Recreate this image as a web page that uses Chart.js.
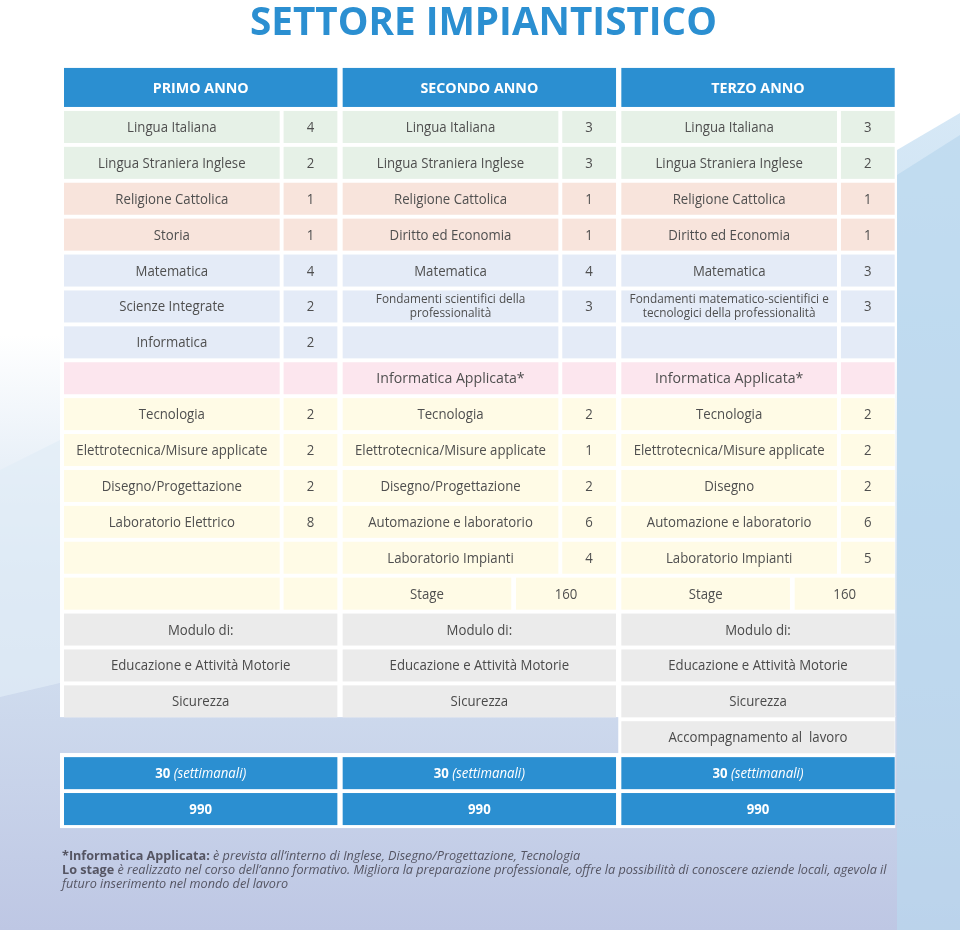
<!DOCTYPE html>
<html>
<head>
<meta charset="utf-8">
<script src="https://cdn.jsdelivr.net/npm/chart.js@4.4.1/dist/chart.umd.min.js"></script>
<style>
  html, body { margin: 0; padding: 0; background: #fff; }
  canvas { display: block; }
</style>
</head>
<body>
<canvas id="myChart" width="960" height="930"></canvas>
<script>
// ---- data ----
const titleText = 'SETTORE IMPIANTISTICO';
const years = ['PRIMO ANNO', 'SECONDO ANNO', 'TERZO ANNO'];

const subjects_1 = ['Lingua Italiana', 'Lingua Straniera Inglese', 'Religione Cattolica', 'Storia',
  'Matematica', 'Scienze Integrate', 'Informatica', '', 'Tecnologia',
  'Elettrotecnica/Misure applicate', 'Disegno/Progettazione', 'Laboratorio Elettrico', '', ''];
const hours_1 = [4, 2, 1, 1, 4, 2, 2, null, 2, 2, 2, 8, null, null];

const subjects_2 = ['Lingua Italiana', 'Lingua Straniera Inglese', 'Religione Cattolica', 'Diritto ed Economia',
  'Matematica', 'Fondamenti scientifici della\nprofessionalità', '', 'Informatica Applicata*', 'Tecnologia',
  'Elettrotecnica/Misure applicate', 'Disegno/Progettazione', 'Automazione e laboratorio',
  'Laboratorio Impianti', 'Stage'];
const hours_2 = [3, 3, 1, 1, 4, 3, null, null, 2, 1, 2, 6, 4, 160];

const subjects_3 = ['Lingua Italiana', 'Lingua Straniera Inglese', 'Religione Cattolica', 'Diritto ed Economia',
  'Matematica', 'Fondamenti matematico-scientifici e\ntecnologici della professionalità', '', 'Informatica Applicata*',
  'Tecnologia', 'Elettrotecnica/Misure applicate', 'Disegno', 'Automazione e laboratorio',
  'Laboratorio Impianti', 'Stage'];
const hours_3 = [3, 2, 1, 1, 3, 3, null, null, 2, 2, 2, 6, 5, 160];

const moduli_1 = ['Modulo di:', 'Educazione e Attività Motorie', 'Sicurezza'];
const moduli_2 = ['Modulo di:', 'Educazione e Attività Motorie', 'Sicurezza'];
const moduli_3 = ['Modulo di:', 'Educazione e Attività Motorie', 'Sicurezza', 'Accompagnamento al  lavoro'];

const weekly = [30, 30, 30];
const annual = [990, 990, 990];

const notes = [
  [['*Informatica Applicata:', 'b'], [' è prevista all’interno di Inglese, Disegno/Progettazione, Tecnologia', 'i']],
  [['Lo stage', 'b'], [' è realizzato nel corso dell’anno formativo. Migliora la preparazione professionale, offre la possibilità di conoscere aziende locali, agevola il', 'i']],
  [['futuro inserimento nel mondo del lavoro', 'i']]
];

// ---- style ----
const BLUE = '#2b8fd1';
const TEXT = '#4f4f4f';
const groupColors = ['#e6f1e7', '#e6f1e7', '#f8e4dc', '#f8e4dc', '#e4ebf7', '#e4ebf7', '#e4ebf7',
  '#fce6ee', '#fffbe6', '#fffbe6', '#fffbe6', '#fffbe6', '#fffbe6', '#fffbe6'];
const GRAY = '#ebebeb';
const FONT = '"Open Sans", "Noto Sans", sans-serif';

const subjects = [subjects_1, subjects_2, subjects_3];
const hours = [hours_1, hours_2, hours_3];
const moduli = [moduli_1, moduli_2, moduli_3];

// cell extents in block / row units
const NAME_END = 0.774, VAL_START = 0.788, BLOCK_END = 0.981;
const STAGE_END = 0.605, STAGE_VAL = 0.622;
const HALF = 0.446;

const ctx = document.getElementById('myChart').getContext('2d');
let kReg = 1, kBold = 1, kNote = 1;

function calibrate(c) {
  c.save();
  c.font = '14px ' + FONT;
  kReg = 191 / c.measureText('Elettrotecnica/Misure applicate').width;
  c.font = 'bold 14.5px ' + FONT;
  kBold = 96 / c.measureText('PRIMO ANNO').width;
  c.font = 'italic 13px ' + FONT;
  kNote = 226 / c.measureText('futuro inserimento nel mondo del lavoro').width;
  c.restore();
}

function text_at(c, str, x, y, font, color, k) {
  c.save();
  c.font = font;
  c.fillStyle = color;
  c.textAlign = 'center';
  c.textBaseline = 'alphabetic';
  c.translate(x, y);
  c.scale(k, 1);
  c.fillText(str, 0, 0);
  c.restore();
}

function rich_text(c, parts, x, y, size, color, k, align) {
  c.save();
  c.fillStyle = color;
  c.textBaseline = 'alphabetic';
  c.textAlign = 'left';
  let fonts = parts.map(p => (p[1] === 'b' ? 'bold ' : p[1] === 'i' ? 'italic ' : '') + size + 'px ' + FONT);
  let widths = parts.map((p, i) => { c.font = fonts[i]; return c.measureText(p[0]).width * k; });
  let total = widths.reduce((a, b) => a + b, 0);
  let cx = align === 'center' ? x - total / 2 : x;
  parts.forEach((p, i) => {
    c.save();
    c.font = fonts[i];
    c.translate(cx, y);
    c.scale(k, 1);
    c.fillText(p[0], 0, 0);
    c.restore();
    cx += widths[i];
  });
  c.restore();
}

function rect_units(chart, x0, x1, y0, y1, color) {
  const sx = chart.scales.x, sy = chart.scales.y;
  const px0 = sx.getPixelForValue(x0), px1 = sx.getPixelForValue(x1);
  const py0 = sy.getPixelForValue(y0), py1 = sy.getPixelForValue(y1);
  chart.ctx.fillStyle = color;
  chart.ctx.fillRect(px0, Math.min(py0, py1), px1 - px0, Math.abs(py1 - py0));
}

const backgroundPlugin = {
  id: 'background',
  beforeDraw(chart) {
    const c = chart.ctx;
    const g = c.createLinearGradient(0, 0, 0, 930);
    g.addColorStop(0, '#ffffff');
    g.addColorStop(0.36, '#ffffff');
    g.addColorStop(0.62, '#d6e4f2');
    g.addColorStop(1, '#bec7e4');
    c.fillStyle = g;
    c.fillRect(0, 0, 960, 930);
    // left lighter band with diagonal lower edge
    c.fillStyle = 'rgba(225,236,247,0.7)';
    c.beginPath();
    c.moveTo(0, 470); c.lineTo(60, 440); c.lineTo(60, 683); c.lineTo(0, 697);
    c.closePath(); c.fill();
    // right shapes
    const g2 = c.createLinearGradient(0, 110, 0, 930);
    g2.addColorStop(0, '#d6e8f6');
    g2.addColorStop(0.5, '#c6def0');
    g2.addColorStop(1, 'rgba(196,208,232,0.2)');
    c.fillStyle = g2;
    c.beginPath();
    c.moveTo(897, 150); c.lineTo(960, 113); c.lineTo(960, 930); c.lineTo(897, 930);
    c.closePath(); c.fill();
    c.fillStyle = 'rgba(185,215,238,0.7)';
    c.beginPath();
    c.moveTo(897, 175); c.lineTo(960, 135); c.lineTo(960, 930); c.lineTo(897, 930);
    c.closePath(); c.fill();
  }
};

const tablePlugin = {
  id: 'table',
  afterDraw(chart) {
    const c = chart.ctx;
    const sx = chart.scales.x, sy = chart.scales.y;
    calibrate(c);

    // title
    c.save();
    c.font = 'bold 39px ' + FONT;
    const kt = 467 / c.measureText(titleText).width;
    c.restore();
    text_at(c, titleText, 483.5, 35, 'bold 39px ' + FONT, BLUE, kt);

    // white panels
    rect_units(chart, -0.0144, 2.983, -0.755, 17.44, '#ffffff');
    rect_units(chart, 1.989, 2.983, 17.4, 18.5, '#ffffff');
    rect_units(chart, -0.0144, 2.983, 18.44, 20.53, '#ffffff');

    const reg = '14px ' + FONT;
    years.forEach((yr, b) => {
      const bx = b;
      const cxBlock = sx.getPixelForValue(bx + BLOCK_END / 2);
      // header
      rect_units(chart, bx, bx + BLOCK_END, -0.644, 0.443, BLUE);
      text_at(c, yr, cxBlock, sy.getPixelForValue(-0.1) + 5.5, 'bold 14.5px ' + FONT, '#ffffff', kBold);

      // subject rows
      subjects[b].forEach((name, i) => {
        const r = i + 1;
        const col = groupColors[i];
        const isStage = name === 'Stage';
        const nEnd = isStage ? STAGE_END : NAME_END;
        const vStart = isStage ? STAGE_VAL : VAL_START;
        rect_units(chart, bx, bx + nEnd, r - HALF, r + HALF, col);
        rect_units(chart, bx + vStart, bx + BLOCK_END, r - HALF, r + HALF, col);
        const ny = sy.getPixelForValue(r);
        const nx = sx.getPixelForValue(bx + nEnd / 2);
        if (name.indexOf('\n') >= 0) {
          const lines = name.split('\n');
          text_at(c, lines[0], nx, ny - 3, '12.5px ' + FONT, TEXT, kReg);
          text_at(c, lines[1], nx, ny + 11, '12.5px ' + FONT, TEXT, kReg);
        } else if (name) {
          const f = name === 'Informatica Applicata*' ? '15px ' + FONT : reg;
          text_at(c, name, nx, ny + 5, f, TEXT, kReg);
        }
        const h = hours[b][i];
        if (h !== null) {
          text_at(c, String(h), sx.getPixelForValue(bx + (vStart + BLOCK_END) / 2), ny + 5, reg, TEXT, kReg);
        }
      });

      // module rows
      moduli[b].forEach((m, j) => {
        const r = 15 + j;
        rect_units(chart, bx, bx + BLOCK_END, r - HALF, r + HALF, GRAY);
        text_at(c, m, cxBlock, sy.getPixelForValue(r) + 5, reg, '#4a4a4a', kReg);
      });

      // totals
      rect_units(chart, bx, bx + BLOCK_END, 19 - HALF, 19 + HALF, BLUE);
      rich_text(c, [[String(weekly[b]), 'b'], [' (settimanali)', 'i']], cxBlock, sy.getPixelForValue(19) + 5, 14, '#ffffff', kReg, 'center');
      rect_units(chart, bx, bx + BLOCK_END, 20 - HALF, 20 + HALF, BLUE);
      text_at(c, String(annual[b]), cxBlock, sy.getPixelForValue(20) + 5, 'bold 14px ' + FONT, '#ffffff', kReg);
    });

    // notes
    notes.forEach((line, i) => {
      rich_text(c, line, 62, 860 + i * 14, 13, '#555563', kNote, 'left');
    });
  }
};

const MyChart = new Chart(ctx, {
  type: 'scatter',
  data: { datasets: [] },
  options: {
    responsive: false,
    animation: false,
    layout: { padding: { left: 64, right: 60, top: 109, bottom: 103 } },
    scales: {
      x: { type: 'linear', min: 0, max: 3, display: false },
      y: { type: 'linear', min: 0.5, max: 20.5, reverse: true, display: false }
    },
    plugins: { legend: { display: false }, tooltip: { enabled: false }, title: { display: false } }
  },
  plugins: [backgroundPlugin, tablePlugin]
});
</script>
</body>
</html>
